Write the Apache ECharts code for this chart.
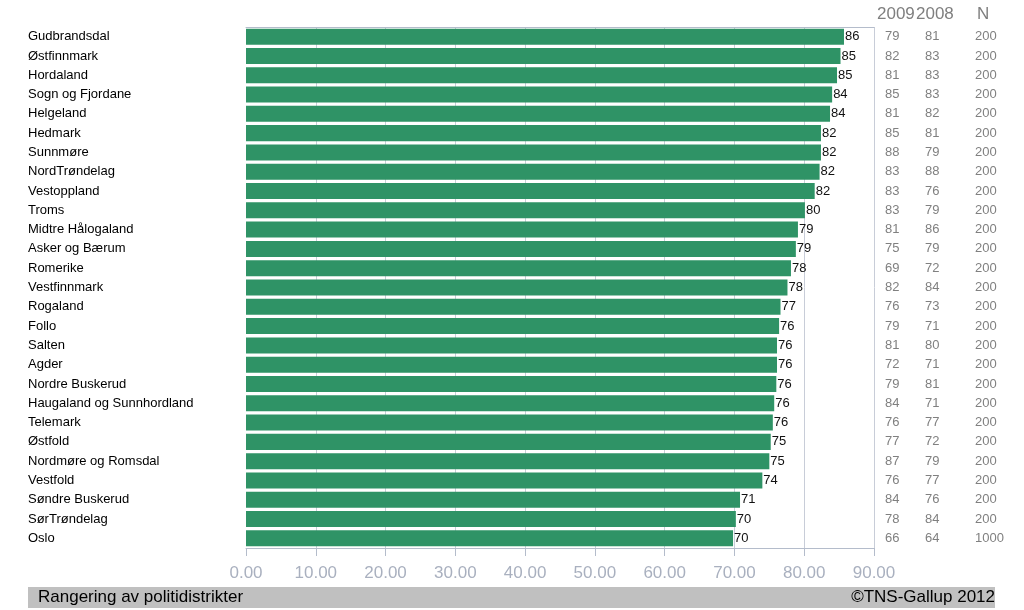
<!DOCTYPE html>
<html>
<head>
<meta charset="utf-8">
<script src="https://cdn.jsdelivr.net/npm/echarts@6/dist/echarts.min.js"></script>
<style>html,body{margin:0;padding:0;background:#fff}#c{width:1024px;height:610px}</style>
</head>
<body>
<div id="c"></div>
<script>
const categories = ["Gudbrandsdal","Østfinnmark","Hordaland","Sogn og Fjordane","Helgeland","Hedmark","Sunnmøre","NordTrøndelag","Vestoppland","Troms","Midtre Hålogaland","Asker og Bærum","Romerike","Vestfinnmark","Rogaland","Follo","Salten","Agder","Nordre Buskerud","Haugaland og Sunnhordland","Telemark","Østfold","Nordmøre og Romsdal","Vestfold","Søndre Buskerud","SørTrøndelag","Oslo"];
const values2010 = [85.7,85.2,84.7,84.0,83.7,82.4,82.4,82.2,81.5,80.1,79.1,78.8,78.1,77.6,76.6,76.4,76.1,76.1,76.0,75.7,75.5,75.2,75.0,74.0,70.8,70.2,69.8];
const values2009 = [79,82,81,85,81,85,88,83,83,83,81,75,69,82,76,79,81,72,79,84,76,77,87,76,84,78,66];
const values2008 = [81,83,83,83,82,81,79,88,76,79,86,79,72,84,73,71,80,71,81,71,77,72,79,77,76,84,64];
const valuesN = [200,200,200,200,200,200,200,200,200,200,200,200,200,200,200,200,200,200,200,200,200,200,200,200,200,200,1000];
const columnHeaders = ["2009","2008","N"];
const footerLeft = "Rangering av politidistrikter";
const footerRight = "©TNS-Gallup 2012";

const FONT = "Liberation Sans, Arial, sans-serif";
const chart = echarts.init(document.getElementById('c'), null, {renderer:'canvas'});

function tableAxis(data, margin){
  return {
    type:'category', data: data.map(String), inverse:true, position:'right', offset:0,
    axisLine:{show:false}, axisTick:{show:false}, splitLine:{show:false},
    axisLabel:{align:'left', margin: margin, color:'#808080', fontSize:13, fontFamily:FONT, interval:0}
  };
}

chart.setOption({
  animation:false,
  backgroundColor:'#ffffff',
  grid:{left:246, right:150, top:27, bottom:62, outerBoundsMode:'none'},
  xAxis:[{
    type:'value', min:0, max:90, interval:10, position:'bottom',
    axisLine:{show:true, lineStyle:{color:'#b4bccb'}},
    axisTick:{show:true, length:8, lineStyle:{color:'#b4bccb'}},
    axisLabel:{formatter:v=>v.toFixed(2), fontSize:17, color:'#a9b0bf', fontFamily:FONT, margin:17},
    splitLine:{show:true, showMinLine:false, lineStyle:{color:'#c8cdd8'}}
  },{
    type:'value', min:0, max:90, interval:10, position:'top',
    axisLine:{show:true, lineStyle:{color:'#b4bccb'}},
    axisTick:{show:false}, axisLabel:{show:false}, splitLine:{show:false}
  }],
  yAxis:[{
    type:'category', data:categories, inverse:true,
    axisLine:{show:false}, axisTick:{show:false},
    axisLabel:{align:'left', margin:218, color:'#000', fontSize:13, fontFamily:FONT, interval:0}
  },
  tableAxis(values2009, 11),
  tableAxis(values2008, 51),
  tableAxis(valuesN, 101)
  ],
  series:[{
    type:'bar', data:values2010, xAxisIndex:0, yAxisIndex:0,
    barCategoryGap:'17%',
    itemStyle:{color:'#2f9366'},
    label:{show:true, position:'right', distance:1, color:'#111', fontSize:13, fontFamily:FONT,
      formatter:p=>Math.round(p.value)}
  }],
  graphic:[
    {type:'text', left:877, top:6, style:{text:columnHeaders[0], fontSize:17, fill:'#7f7f7f', fontFamily:FONT}},
    {type:'text', left:916, top:6, style:{text:columnHeaders[1], fontSize:17, fill:'#7f7f7f', fontFamily:FONT}},
    {type:'text', left:977, top:6, style:{text:columnHeaders[2], fontSize:17, fill:'#7f7f7f', fontFamily:FONT}},
    {type:'rect', shape:{x:28, y:587, width:967, height:21}, style:{fill:'#c0c0c0'}, z:-1},
    {type:'text', left:38, top:589, style:{text:footerLeft, fontSize:17, fill:'#000', fontFamily:FONT}},
    {type:'text', right:29, top:589, style:{text:footerRight, fontSize:17, fill:'#000', fontFamily:FONT}}
  ]
});
</script>
</body>
</html>
